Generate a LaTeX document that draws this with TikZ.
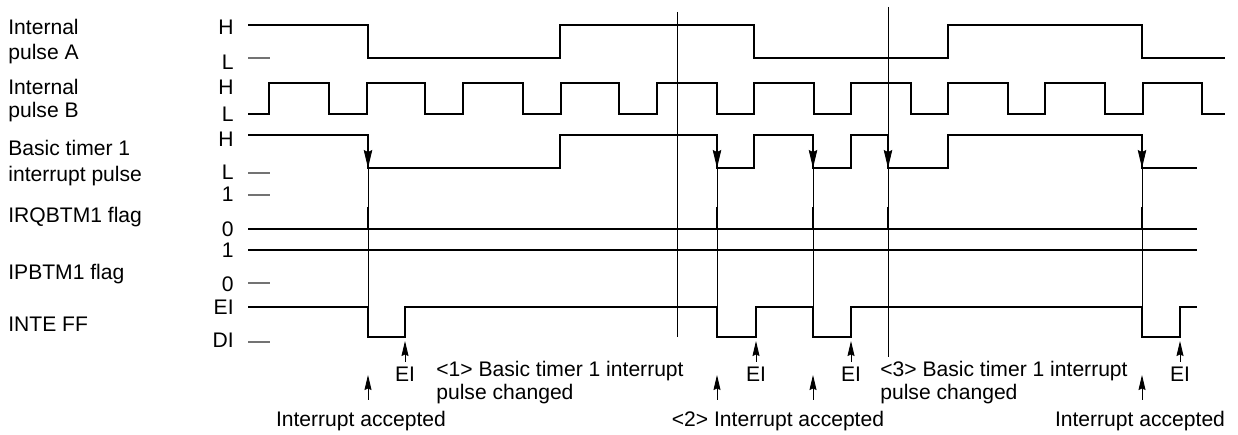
\documentclass[tikz,border=0pt]{standalone}
\usepackage{fontspec}
\setmainfont{Liberation Sans}
\usepackage{tikz}
\usetikzlibrary{arrows.meta}
\newcommand{\figfont}{\fontsize{12}{14.4}\selectfont}
\tikzset{
  %% Signal waveform
  wave/.style={draw=black, line width=1.2pt, line join=miter},
  %% Thin guide line
  guide/.style={draw=black, line width=0.5pt},
  %% Arrow on a falling edge
  tip/.style={-{Stealth[length=3.6mm,width=1.7mm,inset=0.4mm]},
              draw=black, line width=0.5pt},
  %% Short upward arrow
  uptip/.style={-{Stealth[length=3mm,width=1.4mm,inset=0.3mm]},
                draw=black, line width=0.5pt},
  %% Short grey level tick
  ltick/.style={draw=black!55, line width=0.6pt},
  %% Texts
  sig/.style={anchor=base west, inner sep=0pt, font=\figfont},
  lvl/.style={anchor=base east, inner sep=0pt, font=\figfont},
  note/.style={anchor=base, inner sep=0pt, font=\figfont},
}

\begin{document}
\begin{tikzpicture}[x=0.02cm, y=-0.02cm]
  \useasboundingbox (0,0) rectangle (1238,435);

  %% Signal names
  \foreach \n/\y/\t in {a1/35/Internal, a2/60/pulse A, b1/95/Internal,
                        b2/118/pulse B, c1/156/Basic timer 1,
                        c2/182/interrupt pulse, d/223/IRQBTM1 flag,
                        e/280/IPBTM1 flag, f/332/INTE FF}
    \node[sig] (sig-\n) at (8,\y) {\t};

  %% Level names
  \foreach \n/\y/\t in {aH/35/H, aL/70/L, bH/95/H, bL/122/L, cH/147/H,
                        cL/180/L, d1/202/1, d0/237/0, e1/258/1, e0/292/0,
                        fE/315/EI, fD/348/DI}
    \node[lvl] (lvl-\n) at (234,\y) {\t};

  %% Level ticks
  \foreach \y in {58, 173, 195, 283, 342}
    \draw[ltick] (248,\y) -- (270,\y);

  %% Internal pulse A
  \draw[wave] (248,25) -| (368,58) -| (560,25) -| (754,58) -| (948,25)
       -| (1142,58) -- (1225,58);

  %% Internal pulse B
  \draw[wave] (248,114)
       \foreach \r/\f in {269/329, 367/425, 463/523, 561/619, 657/717,
                          754/814, 851/911, 948/1008, 1045/1105, 1143/1202}
       { -| (\r,83) -| (\f,114) } -- (1225,114);

  %% Basic timer 1 interrupt pulse
  \draw[wave] (248,135) -| (368,168) -| (560,135) -| (717,168) -| (754,135)
       -| (813,168) -| (851,135) -| (888,168) -| (948,135) -| (1142,168)
       -- (1197,168);

  %% IRQBTM1 flag with set spikes
  \draw[wave] (248,229) -- (1197,229);
  \foreach \x in {368, 717, 813, 888, 1142}
    \draw[wave] (\x,207) -- (\x,229);

  %% IPBTM1 flag
  \draw[wave] (248,250) -- (1197,250);

  %% INTE FF
  \draw[wave] (248,307) -| (368,337) -| (405,307) -| (717,337) -| (756,307)
       -| (813,337) -| (851,307) -| (1142,337) -| (1180,307) -- (1197,307);

  %% Falling edges of the interrupt pulse
  \foreach \x in {368, 717, 813, 888, 1142}
    \draw[tip] (\x,135) -- (\x,168);

  %% Interrupt accepted
  \foreach \x in {368, 717, 813, 1142} {
    \draw[guide] (\x,168) -- (\x,337);
    \draw[uptip] (\x,400) -- (\x,375);
  }
  \node[note] (acc-1) at (361,427) {Interrupt accepted};
  \node[note] (acc-2) at (778,427) {<2> Interrupt accepted};
  \node[note] (acc-3) at (1140,427) {Interrupt accepted};

  %% EI instructions
  \foreach \x [count=\i] in {405, 756, 851, 1180} {
    \draw[uptip] (\x,362) -- (\x,341);
    \node[note] (ei-\i) at (\x,382) {EI};
  }

  %% Pulse changed markers
  \draw[guide] (677,12) -- (677,337);
  \draw[guide] (888,7) -- (888,357);
  \node[sig] (chg-1a) at (436,377) {<1> Basic timer 1 interrupt};
  \node[sig] (chg-1b) at (436,400) {pulse changed};
  \node[sig] (chg-3a) at (880,377) {<3> Basic timer 1 interrupt};
  \node[sig] (chg-3b) at (880,400) {pulse changed};

\end{tikzpicture}
\end{document}
